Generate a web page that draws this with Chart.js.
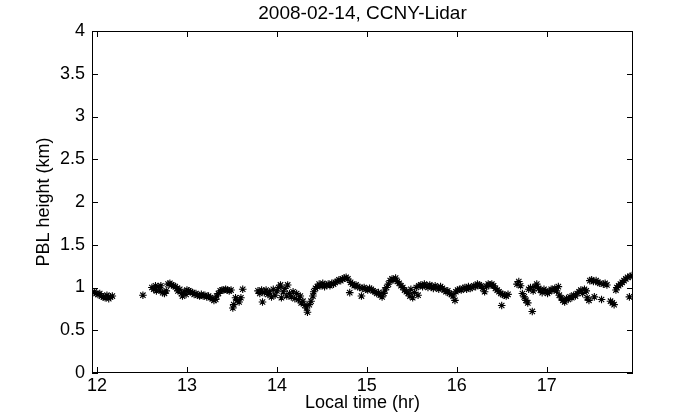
<!DOCTYPE html>
<html>
<head>
<meta charset="utf-8">
<script src="https://cdn.jsdelivr.net/npm/chart.js@4"></script>
<style>
  html, body { margin: 0; padding: 0; background: #fff; }
  #wrap { width: 700px; height: 420px; }
</style>
</head>
<body>
<div id="wrap"><canvas id="chart"></canvas></div>
<script>
// local time (hr) and PBL height (km)
const times = [
  11.95, 11.97, 11.99, 12.01, 12.03, 12.05, 12.07, 12.09, 12.11, 12.13, 12.15, 12.17,
  12.51,
  12.61, 12.63, 12.65, 12.66, 12.68, 12.70, 12.71, 12.73, 12.75, 12.77,
  12.79, 12.81, 12.83, 12.85, 12.87, 12.89, 12.90, 12.92, 12.94, 12.95, 12.97, 12.99,
  13.00, 13.02, 13.04, 13.06, 13.08, 13.10, 13.12, 13.14, 13.16, 13.18, 13.20, 13.22,
  13.24, 13.26, 13.28, 13.30, 13.32, 13.33, 13.35, 13.37, 13.39, 13.41, 13.43, 13.45,
  13.47, 13.49, 13.51, 13.52, 13.54, 13.56, 13.58, 13.60, 13.62,
  13.79, 13.81, 13.83, 13.84, 13.86, 13.88, 13.90, 13.92, 13.94, 13.96, 13.98,
  14.00, 14.02, 14.04, 14.05, 14.07, 14.09, 14.11, 14.12, 14.14, 14.16, 14.18, 14.20,
  14.22, 14.24, 14.26, 14.27, 14.29, 14.31, 14.33, 14.34, 14.36, 14.38, 14.40, 14.41, 14.43,
  14.45, 14.47, 14.49, 14.51, 14.53, 14.55, 14.57, 14.59, 14.61, 14.63, 14.65, 14.67,
  14.69, 14.71, 14.73, 14.75, 14.77, 14.79, 14.81, 14.82, 14.84, 14.86, 14.88, 14.90,
  14.92, 14.94, 14.95, 14.97, 14.99, 15.01,
  15.03, 15.05, 15.07, 15.09, 15.11, 15.13, 15.15, 15.17, 15.19, 15.20, 15.22, 15.24,
  15.26, 15.28, 15.30, 15.32, 15.34, 15.36, 15.38, 15.40, 15.42, 15.44, 15.46, 15.48,
  15.49, 15.51, 15.53, 15.55, 15.57, 15.58, 15.60, 15.62, 15.64, 15.66, 15.68, 15.70,
  15.72, 15.74, 15.76, 15.78, 15.80,
  15.82, 15.84, 15.86, 15.88, 15.90, 15.92, 15.94, 15.96, 15.98, 15.99, 16.01, 16.03,
  16.05, 16.07, 16.09, 16.11, 16.13, 16.15, 16.17, 16.19, 16.21, 16.23, 16.25, 16.27,
  16.29, 16.31, 16.33, 16.35, 16.37, 16.39, 16.41, 16.43, 16.45, 16.47, 16.49, 16.50,
  16.51, 16.53, 16.55, 16.57,
  16.67, 16.69, 16.71, 16.73, 16.75, 16.77, 16.79, 16.80, 16.82, 16.84, 16.85, 16.87,
  16.89, 16.91, 16.93, 16.95, 16.97, 16.99, 17.01, 17.03, 17.05, 17.07, 17.09, 17.11,
  17.13, 17.14, 17.16, 17.18, 17.20, 17.22, 17.24, 17.26, 17.28, 17.30, 17.32, 17.34,
  17.36, 17.38, 17.40, 17.42, 17.44, 17.45, 17.47, 17.48, 17.50, 17.52, 17.53, 17.55,
  17.57, 17.59, 17.61, 17.63, 17.65, 17.67, 17.71, 17.73, 17.75, 17.77, 17.78, 17.80,
  17.82, 17.84, 17.86, 17.88, 17.90, 17.92, 17.93, 17.95
];
const pbl = [
  0.94, 0.95, 0.93, 0.92, 0.93, 0.90, 0.89, 0.88, 0.91, 0.87, 0.89, 0.90,
  0.91,
  1.00, 0.98, 1.02, 0.96, 1.01, 0.97, 1.02, 0.94, 0.93, 0.96,
  1.04, 1.05, 1.03, 1.02, 1.01, 0.99, 0.96, 0.98, 0.93, 0.90, 0.95, 0.92,
  0.97, 0.96, 0.95, 0.94, 0.92, 0.93, 0.91, 0.90, 0.92, 0.90, 0.91, 0.89,
  0.90, 0.88, 0.87, 0.85, 0.86, 0.90, 0.93, 0.96, 0.97, 0.97, 0.98, 0.97,
  0.96, 0.97, 0.76, 0.80, 0.88, 0.85, 0.83, 0.88, 0.98,
  0.96, 0.93, 0.97, 0.83, 0.94, 0.97, 0.92, 0.95, 0.89, 0.98, 0.91,
  0.96, 1.00, 1.03, 0.88, 0.95, 0.99, 0.90, 1.03, 0.93, 0.89, 0.95, 0.87,
  0.93, 0.86, 0.90, 0.82, 0.84, 0.79, 0.76, 0.71, 0.80, 0.84, 0.90, 0.95, 0.99,
  1.01, 1.04, 1.02, 1.05, 1.01, 1.03, 1.04, 1.02, 1.05, 1.04, 1.06, 1.07,
  1.09, 1.08, 1.10, 1.11, 1.12, 1.10, 0.94, 1.06, 1.04, 1.02, 1.03, 1.01,
  1.00, 0.90, 0.99, 1.00, 0.98, 0.97,
  0.99, 0.98, 0.96, 0.95, 0.93, 0.94, 0.91, 0.89, 0.93, 0.97, 1.00, 1.04,
  1.08, 1.10, 1.09, 1.11, 1.07, 1.05, 1.02, 1.00, 0.97, 0.95, 0.93, 0.90,
  0.98, 0.88, 0.94, 1.00, 0.91, 1.02, 1.03, 1.01, 1.04, 1.02, 1.00, 1.03,
  1.01, 0.99, 1.02, 1.00, 0.98,
  1.01, 0.99, 0.97, 0.95, 0.96, 0.93, 0.92, 0.90, 0.85, 0.95, 0.97, 0.98,
  0.97, 0.99, 1.00, 0.98, 1.01, 0.99, 1.00, 1.02, 1.01, 1.04, 1.03, 1.02,
  0.99, 0.95, 1.01, 1.04, 1.03, 1.04, 1.02, 0.99, 0.97, 0.95, 0.93, 0.79,
  0.92, 0.91, 0.90, 0.92,
  1.04, 1.07, 1.02, 0.93, 0.89, 0.85, 0.82, 0.98, 1.00, 0.72, 0.96, 1.01,
  1.04, 0.99, 0.97, 0.94, 0.98, 0.96, 0.93, 0.95, 0.98, 0.97, 0.99, 0.96,
  1.01, 0.91, 0.88, 0.85, 0.83, 0.87, 0.86, 0.89, 0.88, 0.91, 0.90, 0.93,
  0.95, 0.97, 0.93, 0.98, 0.96, 0.88, 0.85, 1.08, 1.09, 1.07, 0.89, 1.08,
  1.06, 1.05, 0.86, 1.04, 1.05, 1.03, 0.84, 0.82, 0.80, 0.97, 1.00, 1.02,
  1.04, 1.06, 1.08, 1.10, 1.12, 0.89, 1.13, 1.14
];
const xTicks = [12, 13, 14, 15, 16, 17];
const yTicks = [0, 0.5, 1, 1.5, 2, 2.5, 3, 3.5, 4];

const points = times.map((t, i) => ({ x: t, y: pbl[i] }));
const font = { family: 'Liberation Sans, Arial, Helvetica, sans-serif', size: 18 };

// matlab style box with inward ticks on all four sides
const boxTicks = {
  id: 'boxTicks',
  afterDraw(chart) {
    const ctx = chart.ctx;
    const a = chart.chartArea;
    const xs = chart.scales.x;
    const ys = chart.scales.y;
    const len = 6;
    ctx.save();
    ctx.strokeStyle = '#000';
    ctx.lineWidth = 1;
    ctx.strokeRect(a.left + 0.5, a.top + 0.5, a.right - a.left - 1, a.bottom - a.top - 1);
    ctx.beginPath();
    xTicks.forEach(v => {
      const px = Math.round(xs.getPixelForValue(v)) + 0.5;
      ctx.moveTo(px, a.bottom); ctx.lineTo(px, a.bottom - len);
      ctx.moveTo(px, a.top); ctx.lineTo(px, a.top + len);
    });
    yTicks.forEach(v => {
      const py = Math.round(ys.getPixelForValue(v)) + 0.5;
      ctx.moveTo(a.left, py); ctx.lineTo(a.left + len, py);
      ctx.moveTo(a.right, py); ctx.lineTo(a.right - len, py);
    });
    ctx.stroke();
    ctx.restore();
  }
};

new Chart(document.getElementById('chart'), {
  type: 'scatter',
  data: {
    datasets: [{
      label: 'PBL height',
      data: points,
      pointStyle: 'star',
      pointRadius: 3.8,
      borderColor: '#000',
      backgroundColor: '#000',
      borderWidth: 1.1
    }]
  },
  options: {
    responsive: true,
    maintainAspectRatio: false,
    animation: false,
    layout: { padding: { left: 0, right: 67, top: 0, bottom: 0 } },
    plugins: {
      legend: { display: false },
      tooltip: { enabled: false },
      title: {
        display: true,
        fullSize: false,
        text: '2008-02-14, CCNY-Lidar',
        color: '#000',
        font: { family: font.family, size: 19, weight: 'normal' },
        padding: { top: 2, bottom: 6.2 }
      }
    },
    scales: {
      x: {
        type: 'linear',
        min: 11.944,
        max: 17.96,
        afterFit: s => { s.height = 47; },
        grid: { display: false, drawTicks: false },
        border: { display: false },
        ticks: {
          stepSize: 1,
          includeBounds: false,
          color: '#000',
          font: font,
          padding: 2,
          maxRotation: 0,
          callback: v => String(v)
        },
        title: {
          display: true,
          text: 'Local time (hr)',
          color: '#000',
          font: font,
          padding: { top: 0, bottom: 6 }
        }
      },
      y: {
        type: 'linear',
        min: 0,
        max: 4,
        afterFit: s => { s.width = 92; },
        grid: { display: false, drawTicks: false },
        border: { display: false },
        ticks: {
          stepSize: 0.5,
          color: '#000',
          font: font,
          padding: 7,
          callback: v => String(v)
        },
        title: {
          display: true,
          text: 'PBL height (km)',
          color: '#000',
          font: font,
          padding: { top: 33, bottom: 0 }
        }
      }
    }
  },
  plugins: [boxTicks]
});
</script>
</body>
</html>
